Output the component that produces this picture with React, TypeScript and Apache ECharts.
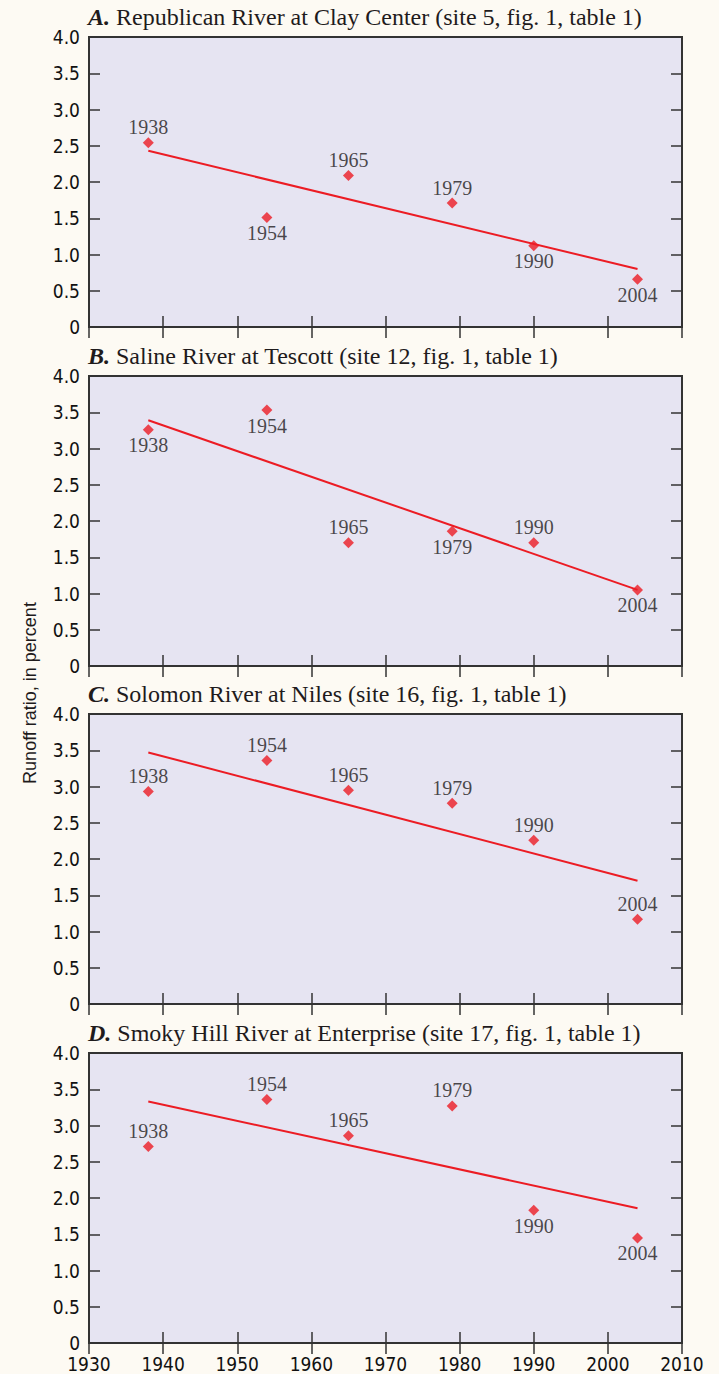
import React, { useEffect, useRef } from "react";
import * as echarts from "echarts";

const years = [1938, 1954, 1965, 1979, 1990, 2004];
const letters = ["A.", "B.", "C.", "D."];
const titles = [
  "Republican River at Clay Center (site 5, fig. 1, table 1)",
  "Saline River at Tescott (site 12, fig. 1, table 1)",
  "Solomon River at Niles (site 16, fig. 1, table 1)",
  "Smoky Hill River at Enterprise (site 17, fig. 1, table 1)",
];
const valuesA = [2.54, 1.51, 2.09, 1.71, 1.12, 0.66];
const valuesB = [3.26, 3.53, 1.7, 1.86, 1.7, 1.05];
const valuesC = [2.93, 3.36, 2.95, 2.77, 2.26, 1.17];
const valuesD = [2.71, 3.36, 2.86, 3.27, 1.83, 1.45];
const trendYears = [1938, 2004];
const trendA = [2.43, 0.8];
const trendB = [3.39, 1.05];
const trendC = [3.47, 1.7];
const trendD = [3.33, 1.86];
const labelPosA = ["top", "bottom", "top", "top", "bottom", "bottom"];
const labelPosB = ["bottom", "bottom", "top", "bottom", "top", "bottom"];
const labelPosC = ["top", "top", "top", "top", "top", "top"];
const labelPosD = ["top", "top", "top", "top", "bottom", "bottom"];
const yAxisTitle = "Runoff ratio, in percent";

const panels = [
  { values: valuesA, trend: trendA, pos: labelPosA },
  { values: valuesB, trend: trendB, pos: labelPosB },
  { values: valuesC, trend: trendC, pos: labelPosC },
  { values: valuesD, trend: trendD, pos: labelPosD },
];

const RED = "#ec1c24";
const INK = "#1f1b1c";
const AXIS = "#333333";
const SERIF = "'Liberation Serif', 'Times New Roman', serif";
const NARROW = "'Liberation Sans Narrow', 'DejaVu Sans Condensed', 'Liberation Sans', sans-serif";

export default function App() {
  const ref = useRef<HTMLDivElement>(null);
  useEffect(() => {
    if (!ref.current) return;
    const chart = echarts.init(ref.current, null, { renderer: "svg" });
    const gridLeft = 89;
    const gridWidth = 593;
    const gridH = 290;
    const tops = [37, 376, 714, 1053];

    const grids: any[] = [];
    const xAxes: any[] = [];
    const yAxes: any[] = [];
    const series: any[] = [];
    const graphics: any[] = [];

    const tick = { inside: true, length: 11, lineStyle: { color: AXIS, width: 1.5 } };

    panels.forEach((p, i) => {
      grids.push({
        left: gridLeft,
        top: tops[i],
        width: gridWidth,
        height: gridH,
        show: true,
        backgroundColor: "#e6e4f2",
        borderColor: AXIS,
        borderWidth: 2,
        z: 0,
      });
      const xb = {
        type: "value",
        gridIndex: i,
        min: 1930,
        max: 2010,
        interval: 10,
        axisLine: { show: false },
        splitLine: { show: false },
        axisTick: tick,
      };
      xAxes.push({
        ...xb,
        position: "bottom",
        axisLabel: {
          show: i === 3,
          margin: 11,
          color: "#111111",
          fontFamily: NARROW,
          fontSize: 19,
          showMinLabel: true,
          showMaxLabel: true,
          formatter: (v: number) => String(v),
        },
      });
      xAxes.push({ ...xb, position: "top", axisLabel: { show: false } });
      const yb = {
        type: "value",
        gridIndex: i,
        min: 0,
        max: 4,
        interval: 0.5,
        axisLine: { show: false },
        splitLine: { show: false },
        axisTick: tick,
      };
      yAxes.push({
        ...yb,
        position: "left",
        axisLabel: {
          margin: 9,
          color: "#111111",
          fontFamily: NARROW,
          fontSize: 19,
          formatter: (v: number) => (v === 0 ? "0" : v.toFixed(1)),
        },
      });
      yAxes.push({ ...yb, position: "right", axisLabel: { show: false } });

      series.push({
        type: "line",
        xAxisIndex: i * 2,
        yAxisIndex: i * 2,
        data: trendYears.map((y, k) => [y, p.trend[k]]),
        showSymbol: false,
        symbol: "none",
        lineStyle: { color: RED, width: 2 },
        z: 2,
        silent: true,
      });
      series.push({
        type: "scatter",
        xAxisIndex: i * 2,
        yAxisIndex: i * 2,
        symbol: "diamond",
        symbolSize: 11,
        itemStyle: { color: RED },
        z: 3,
        data: years.map((y, k) => ({
          value: [y, p.values[k]],
          label: { position: p.pos[k] },
        })),
        label: {
          show: true,
          distance: 0,
          formatter: (d: any) => String(d.value[0]),
          color: INK,
          fontFamily: SERIF,
          fontSize: 20,
        },
      });

      graphics.push({
        type: "text",
        x: gridLeft - 1,
        y: tops[i] - 20,
        style: {
          text: `{b|${letters[i]}} ${titles[i]}`,
          fontFamily: SERIF,
          fontSize: 24,
          fill: INK,
          verticalAlign: "middle",
          align: "left",
          rich: {
            b: {
              fontFamily: SERIF,
              fontSize: 24,
              fontWeight: "bold",
              fontStyle: "italic",
              fill: INK,
            },
          },
        },
      });
    });

    graphics.push({
      type: "text",
      x: 30,
      y: 693,
      rotation: Math.PI / 2,
      style: {
        text: yAxisTitle,
        fontFamily: "'Liberation Sans', Arial, sans-serif",
        fontSize: 18,
        fill: INK,
        align: "center",
        verticalAlign: "middle",
      },
    });

    chart.setOption({
      animation: false,
      backgroundColor: "#fdfaf3",
      grid: grids,
      xAxis: xAxes,
      yAxis: yAxes,
      series,
      graphic: graphics,
    });
    return () => chart.dispose();
  }, []);
  return (
    <div
      ref={ref}
      style={{ position: "absolute", left: 0, top: 0, width: 719, height: 1374 }}
    />
  );
}
